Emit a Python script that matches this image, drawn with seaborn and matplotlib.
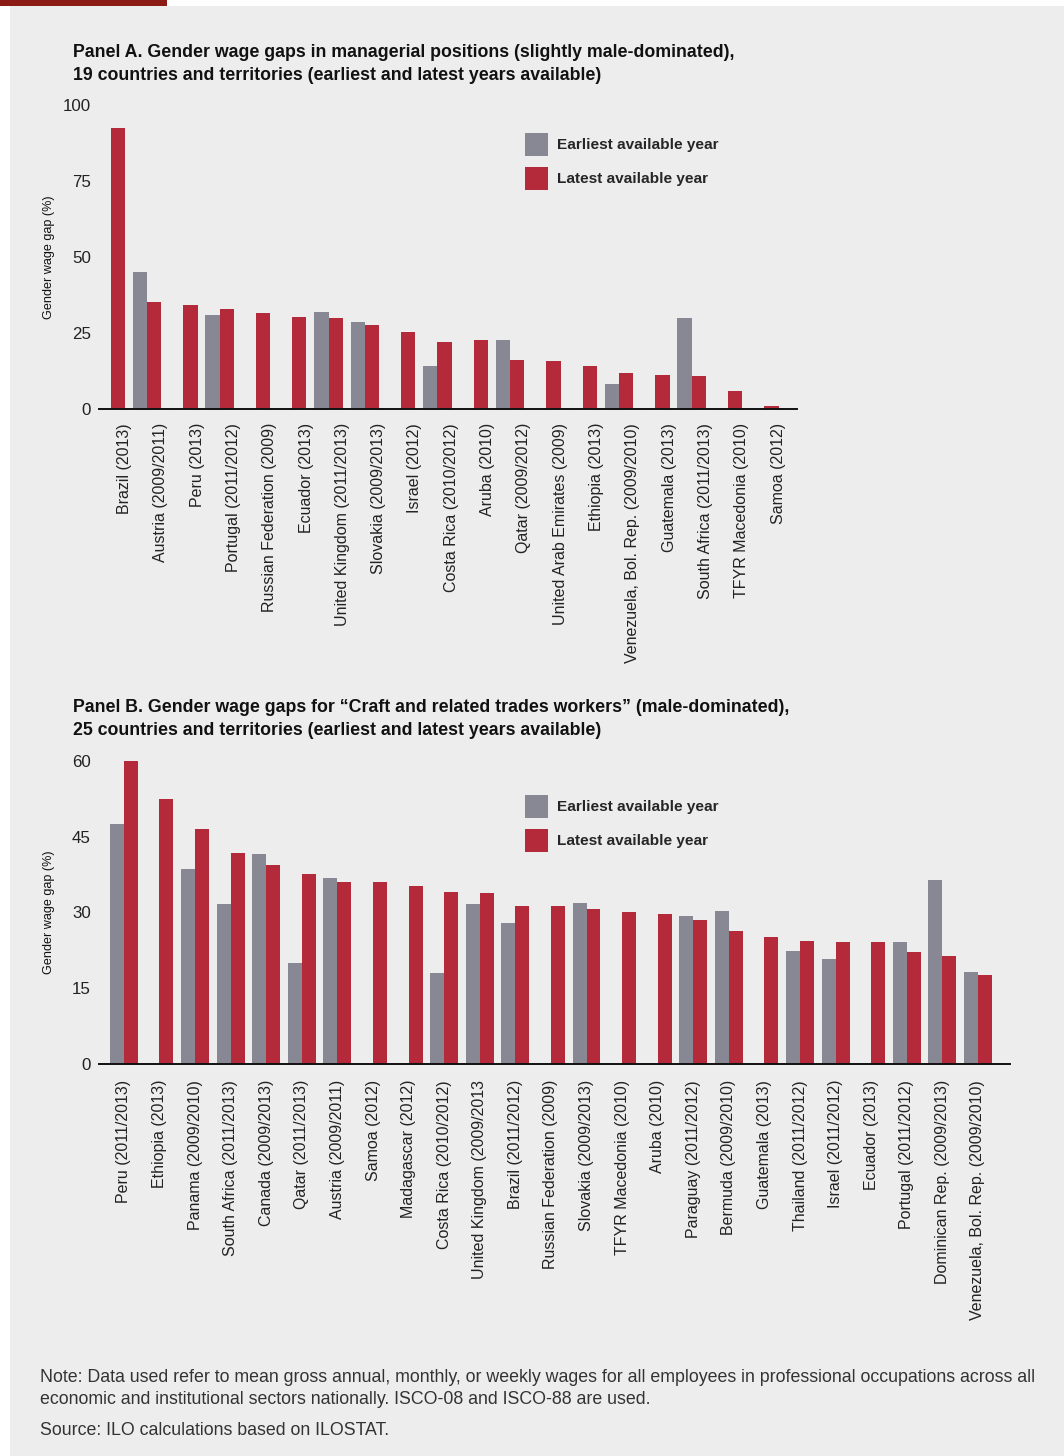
import numpy as np
import pandas as pd
import matplotlib
matplotlib.use("Agg")
import matplotlib.pyplot as plt
from matplotlib import font_manager as fm
from matplotlib.patches import Rectangle
import seaborn as sns

nan = np.nan

# ---------------- data ----------------
series_names = ["Earliest available year", "Latest available year"]

countries_a = ["Brazil (2013)", "Austria (2009/2011)", "Peru (2013)", "Portugal (2011/2012)",
               "Russian Federation (2009)", "Ecuador (2013)", "United Kingdom (2011/2013)",
               "Slovakia (2009/2013)", "Israel (2012)", "Costa Rica (2010/2012)", "Aruba (2010)",
               "Qatar (2009/2012)", "United Arab Emirates (2009)", "Ethiopia (2013)",
               "Venezuela, Bol. Rep. (2009/2010)", "Guatemala (2013)", "South Africa (2011/2013)",
               "TFYR Macedonia (2010)", "Samoa (2012)"]
earliest_a = [nan, 45.2, nan, 31.0, nan, nan, 32.0, 28.7, nan, 14.2, nan, 22.8, nan, nan,
              8.3, nan, 30.0, nan, nan]
latest_a = [92.5, 35.3, 34.3, 33.0, 31.7, 30.3, 30.0, 27.7, 25.4, 22.1, 22.8, 16.2, 15.9, 14.2,
            11.9, 11.3, 11.0, 6.0, 1.1]

countries_b = ["Peru (2011/2013)", "Ethiopia (2013)", "Panama (2009/2010)", "South Africa (2011/2013)",
               "Canada (2009/2013)", "Qatar (2011/2013)", "Austria (2009/2011)", "Samoa (2012)",
               "Madagascar (2012)", "Costa Rica (2010/2012)", "United Kingdom (2009/2013",
               "Brazil (2011/2012)", "Russian Federation (2009)", "Slovakia (2009/2013)",
               "TFYR Macedonia (2010)", "Aruba (2010)", "Paraguay (2011/2012)", "Bermuda (2009/2010)",
               "Guatemala (2013)", "Thailand (2011/2012)", "Israel (2011/2012)", "Ecuador (2013)",
               "Portugal (2011/2012)", "Dominican Rep. (2009/2013)", "Venezuela, Bol. Rep. (2009/2010)"]
earliest_b = [47.5, nan, 38.6, 31.7, 41.6, 20.0, 36.8, nan, nan, 18.0, 31.7, 28.0, nan, 31.9,
              nan, nan, 29.3, 30.3, nan, 22.3, 20.7, nan, 24.1, 36.5, 18.3]
latest_b = [60.0, 52.5, 46.5, 41.8, 39.4, 37.6, 36.0, 36.0, 35.2, 34.0, 33.8, 31.3, 31.3, 30.7,
            30.1, 29.7, 28.5, 26.3, 25.1, 24.3, 24.1, 24.1, 22.1, 21.3, 17.7]

yticks_a = [0, 25, 50, 75, 100]
yticks_b = [0, 15, 30, 45, 60]

title_a = ("Panel A. Gender wage gaps in managerial positions (slightly male-dominated),\n"
           "19 countries and territories (earliest and latest years available)")
title_b = ("Panel B. Gender wage gaps for \u201cCraft and related trades workers\u201d (male-dominated),\n"
           "25 countries and territories (earliest and latest years available)")
ylabel = "Gender wage gap (%)"
note = ("Note: Data used refer to mean gross annual, monthly, or weekly wages for all employees in professional occupations across all\n"
        "economic and institutional sectors nationally. ISCO-08 and ISCO-88 are used.")
source = "Source: ILO calculations based on ILOSTAT."

# ---------------- style ----------------
GREY = "#878893"
RED = "#b52a3b"
BG = "#ededed"

sns.set_theme(style="white")
names = {f.name for f in fm.fontManager.ttflist}
REG = "Liberation Sans" if "Liberation Sans" in names else "DejaVu Sans"
if "Liberation Sans Narrow" in names:
    NARROW = "Liberation Sans Narrow"
    TITLE_FS, LEG_FS, NOTE_FS, YL_FS = 13.2, 13.2, 13.0, 10.8
else:
    NARROW = REG
    TITLE_FS, LEG_FS, NOTE_FS, YL_FS = 12.8, 11.1, 12.8, 9.1
plt.rcParams["font.family"] = [REG, "DejaVu Sans"]

W, H = 1064, 1456
fig = plt.figure(figsize=(W / 100, H / 100), dpi=100, facecolor="white")
fig.patches.append(Rectangle((10 / W, 0), 1 - 10 / W, 1 - 6 / H, transform=fig.transFigure,
                             facecolor=BG, edgecolor="none", zorder=-10))
fig.patches.append(Rectangle((0, 1 - 6 / H), 167 / W, 6 / H, transform=fig.transFigure,
                             facecolor="#8b1c15", edgecolor="none", zorder=-9))


def make_df(cats, e, l):
    rows = []
    for c, v1, v2 in zip(cats, e, l):
        if not np.isnan(v1):
            rows.append((c, series_names[0], v1))
        if not np.isnan(v2):
            rows.append((c, series_names[1], v2))
    return pd.DataFrame(rows, columns=["country", "series", "value"])


def panel(rect_px, cats, e, l, yticks, xlim, label_shift, label_pad, leg_top, title, title_top):
    left, right, top, bottom = rect_px
    ax = fig.add_axes([left / W, 1 - bottom / H, (right - left) / W, (bottom - top) / H])
    ax.set_facecolor(BG)
    df = make_df(cats, e, l)
    sns.barplot(data=df, x="country", y="value", hue="series", order=cats,
                hue_order=series_names, palette=[GREY, RED], width=0.785,
                saturation=1, errorbar=None, linewidth=0, edgecolor="none", ax=ax)
    ax.set_ylim(yticks[0], yticks[-1])
    ax.set_xlim(*xlim)
    ax.set_yticks(yticks)
    ax.set_yticklabels([str(t) for t in yticks], fontsize=12.2, color="#222222", family=[REG])
    ax.set_xticks(np.arange(len(cats)) + label_shift)
    ax.set_xticklabels(cats, rotation=90, ha="center", va="top", fontsize=11.5,
                       color="#222222", family=[REG])
    ax.tick_params(axis="x", length=0, pad=label_pad)
    ax.tick_params(axis="y", length=0, pad=6)
    for s in ["top", "right", "left"]:
        ax.spines[s].set_visible(False)
    ax.spines["bottom"].set_color("#111111")
    ax.spines["bottom"].set_linewidth(1.4)
    ax.set_xlabel("")
    ax.set_ylabel("")
    ax.text((49 - left) / (right - left), 0.5, ylabel, transform=ax.transAxes, rotation=90,
            ha="center", va="center", fontsize=YL_FS, family=[NARROW], color="#111111")
    handles, labels = ax.get_legend_handles_labels()
    fs_px = LEG_FS / 0.72
    box = 23.0
    hh = (box / fs_px - 0.245) / 0.65
    ax.legend(handles, labels, loc="upper left",
              bbox_to_anchor=(525 / W, 1 - leg_top / H),
              bbox_transform=fig.transFigure, frameon=False, borderpad=0, borderaxespad=0,
              handlelength=box / fs_px, handleheight=hh,
              handletextpad=0.6, labelspacing=(34 - box) / fs_px,
              prop=dict(family=NARROW, weight="bold", size=LEG_FS))
    fig.text(73 / W, 1 - title_top / H, title, ha="left", va="top", fontsize=TITLE_FS,
             family=[NARROW], weight="bold", color="#111111", linespacing=1.43)
    return ax


panel((99, 797, 105, 409), countries_a, earliest_a, latest_a, yticks_a, (-0.32, 18.9),
      0.38, 10, 133, title_a, 44)
panel((99, 1010, 761, 1064), countries_b, earliest_b, latest_b, yticks_b, (-0.70, 24.9),
      0.0, 11.5, 795, title_b, 699)

fig.text(40 / W, 1 - 1369 / H, note, ha="left", va="top", fontsize=NOTE_FS,
         family=[NARROW], color="#333333", linespacing=1.42)
fig.text(40 / W, 1 - 1422 / H, source, ha="left", va="top", fontsize=NOTE_FS,
         family=[NARROW], color="#333333")

fig.savefig("out.png", dpi=100, facecolor="white")
